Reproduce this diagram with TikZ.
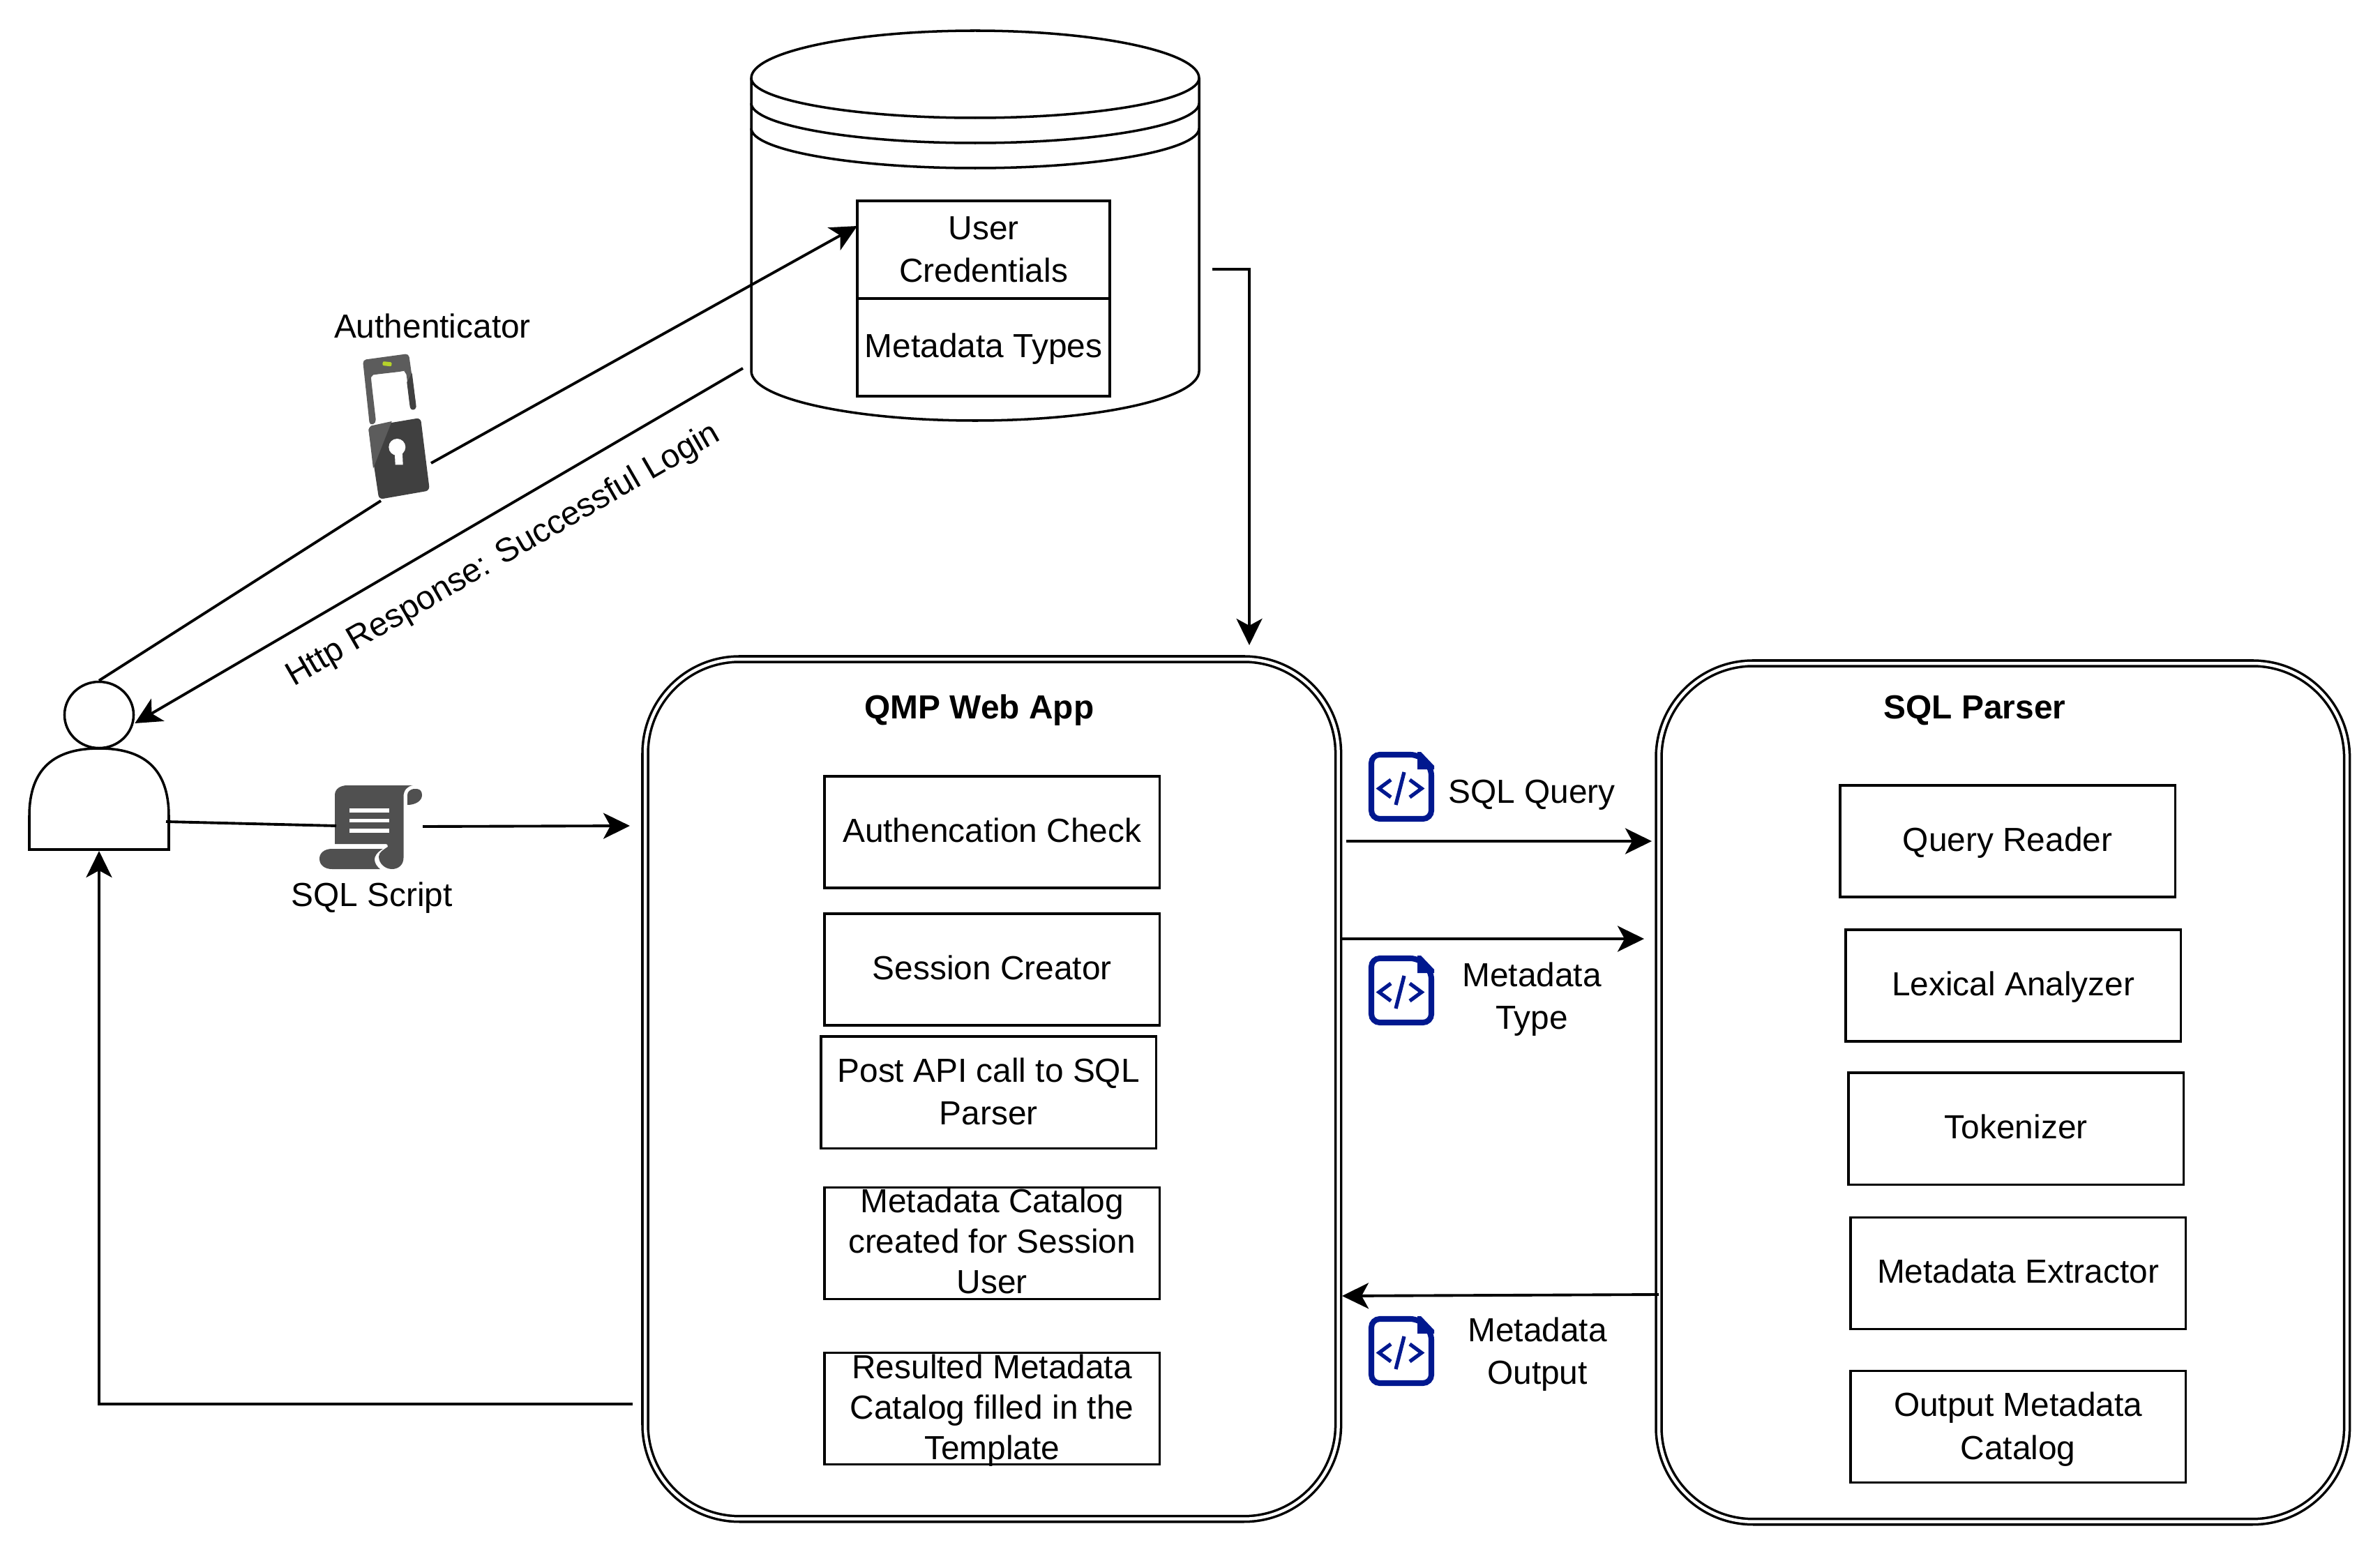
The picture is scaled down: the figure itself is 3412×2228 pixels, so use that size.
\documentclass[tikz,border=0pt]{standalone}
\usepackage{fontspec}
\setmainfont{Liberation Sans}
\usetikzlibrary{positioning,shapes.geometric,arrows.meta}

\definecolor{iconblue}{HTML}{00188F}
\definecolor{scrollgrey}{HTML}{505050}
\definecolor{lockdark}{HTML}{404040}
\definecolor{locklight}{HTML}{5C5C5C}
\definecolor{lockled}{HTML}{B5D22A}

\newcommand{\linestrut}{\rule[-4.04pt]{0pt}{16.04pt}}

\tikzset{
	lbl/.style={font=\fontsize{13.6}{17.4}\selectfont, align=center, inner sep=0, execute at begin node=\linestrut, execute at end node=\linestrut},
	wrapped/.style={execute at begin node={\rule{0pt}{30.5pt}}},
	box/.style={lbl, draw, line width=1pt, minimum width=4.8cm, minimum height=1.6cm, outer sep=0},
	tightbox/.style={box, font=\fontsize{13.6}{16.5}\selectfont, inner ysep=-0.2cm, execute at begin node={\rule{0pt}{45.3pt}}},
	store/.style={box, minimum width=3.62cm, minimum height=1.4cm},
	container/.style={draw, line width=1pt, double, double distance=0.045cm, rounded corners=1.35cm, outer sep=0, inner sep=0},
	title/.style={lbl, font=\fontsize{13.6}{17.4}\selectfont\bfseries},
	flow/.style={line width=1.1pt, -{Stealth[length=0.38cm,width=0.37cm,inset=0.1cm]}},
	plain/.style={line width=1.1pt},
	wall/.style={line width=1pt},
	codefile/.pic={
		\draw[iconblue, line width=2.3pt, rounded corners=0.12cm] (4,4) -- (72,4) -- (90,22) -- (90,96) -- (4,96) -- cycle;
		\fill[iconblue] (70,0) -- (75,0) -- (94,20) -- (94,25) -- (70,25) -- cycle;
		\draw[iconblue, line width=1.5pt] (32,40) -- (15,52.5) -- (32,65);
		\draw[iconblue, line width=1.5pt] (59,40) -- (76,52.5) -- (59,65);
		\draw[iconblue, line width=1.5pt] (51,29) -- (39,76);
	}
}

\begin{document}
\begin{tikzpicture}[x=0.01cm, y=-0.01cm]
	\useasboundingbox (0,0) rectangle (3412,2228);

	\draw[wall] (1077,112) -- (1077,532) .. controls (1077,571) and (1221,603) .. (1398,603) .. controls (1575,603) and (1719,571) .. (1719,532) -- (1719,112);
	\draw[wall] (1077,112) .. controls (1077,75) and (1221,44) .. (1398,44) .. controls (1575,44) and (1719,75) .. (1719,112);
	\foreach \dy in {0,36,72}
		\draw[wall] (1077,112+\dy) .. controls (1077,143+\dy) and (1221,169+\dy) .. (1398,169+\dy) .. controls (1575,169+\dy) and (1719,143+\dy) .. (1719,112+\dy);

	\node[store, wrapped, anchor=north west](cred) at (1229,288){User\\Credentials};
	\node[store, below=0cm of cred](mtypes){Metadata Types};

	\node[container, minimum width=9.93cm, minimum height=12.32cm, anchor=north west](qmp) at (925,945){};
	\node[container, minimum width=9.86cm, minimum height=12.30cm, anchor=north west](parser) at (2378,951){};
	\node[title](qmptitle) at (1404,1017){QMP Web App};
	\node[title](parsertitle) at (2831,1017){SQL Parser};

	\node[box, anchor=north west](auth) at (1182,1113){Authencation Check};
	\node[box, below=0.37cm of auth](session){Session Creator};
	\node[box, wrapped, below=0.16cm of session, xshift=-0.05cm](post){Post API call to SQL\\Parser};
	\node[tightbox, below=0.56cm of post, xshift=0.05cm](catalog){Metadata Catalog\\created for Session\\User};
	\node[tightbox, below=0.77cm of catalog](result){Resulted Metadata\\Catalog filled in the\\Template};

	\node[box, anchor=north west](reader) at (2638,1126){Query Reader};
	\node[box, below=0.47cm of reader, xshift=0.08cm](lexer){Lexical Analyzer};
	\node[box, below=0.45cm of lexer, xshift=0.04cm](token){Tokenizer};
	\node[box, below=0.47cm of token, xshift=0.03cm](extract){Metadata Extractor};
	\node[box, wrapped, below=0.60cm of extract](output){Output Metadata\\Catalog};

	\node[draw, line width=1pt, ellipse, minimum width=0.99cm, minimum height=0.95cm, inner sep=0](head) at (142,1025){};
	\draw[wall] (42,1218) -- (42,1170) .. controls (42,1100) and (80,1073) .. (142,1073) .. controls (204,1073) and (242,1100) .. (242,1170) -- (242,1218) -- cycle;
	\coordinate (actorfoot) at (142,1220);
	\coordinate (actorside) at (238,1178);

	\fill[locklight, rounded corners=0.05cm] (520,516) -- (586,507) -- (596.7,583) -- (591.7,588) -- (587.7,583) -- (583.3,541.7) .. controls (582,534) and (578,532) .. (575,532.7) -- (540,536.7) .. controls (535,537.5) and (532,541) .. (532.3,546) -- (539.3,606.7) -- (530,610) -- cycle;
	\fill[lockdark] (590.7,535) -- (583.3,548) -- (587.7,583.3) .. controls (588,589) and (596,589) .. (596.7,583.3) -- cycle;
	\fill[lockled, rotate around={-6:(555,521.7)}, rounded corners=0.02cm] (548.5,518.7) rectangle (561.5,524.7);
	\fill[lockdark, rounded corners=0.06cm] (527.7,611.7) -- (603,599) -- (616,703.3) -- (543.3,716) -- cycle;
	\fill[locklight] (528.5,616) -- (532,610.5) -- (561.7,604) -- (535,671.7) -- cycle;
	\fill[white] (569.3,641) circle [radius=12];
	\fill[white] (565.7,646.7) -- (576.7,645.7) -- (577.7,666.5) -- (566.7,666.5) -- cycle;
	\node[lbl](authlabel) at (620,471){Authenticator};
	\coordinate (lockin) at (546,718);
	\coordinate (lockout) at (618,664);

	\fill[scrollgrey] (480,1140) .. controls (480,1131) and (488,1126) .. (498,1126) -- (592,1126) .. controls (584,1127) and (578.5,1133) .. (578.5,1142) -- (578.5,1230) .. controls (578.5,1240) and (571,1246) .. (562,1246) .. controls (552,1246) and (543,1238) .. (543,1228) .. controls (543,1222) and (550,1218) .. (556,1214) .. controls (556,1211) and (555,1210) .. (553,1210) -- (480,1210) -- cycle;
	\fill[scrollgrey] (476,1217) -- (549,1217) .. controls (540,1222) and (537,1228) .. (537,1232) .. controls (537,1238) and (541,1243) .. (545,1246) -- (476,1246) .. controls (465,1246) and (458,1240) .. (458,1231) .. controls (458,1223) and (465,1217) .. (476,1217) -- cycle;
	\fill[scrollgrey] (584,1154) -- (584,1140) .. controls (584,1135) and (588,1132) .. (593,1131) -- (598,1131) .. controls (603,1132) and (605,1135) .. (605,1140) .. controls (605,1148) and (596,1154) .. (584,1154) -- cycle;
	\foreach \ly in {1159,1173.5,1188}
		\fill[white] (500.5,\ly) rectangle (558,\ly+5.5);
	\node[lbl](scriptlabel) at (533,1285){SQL Script};
	\coordinate (scriptin) at (482,1184);
	\coordinate (scriptout) at (606,1185);

	\pic(queryicon) at (1962,1078){codefile};
	\pic(typeicon) at (1962,1370){codefile};
	\pic(outicon) at (1962,1887){codefile};
	\node[lbl](querylabel) at (2196,1137){SQL Query};
	\node[lbl, wrapped](typelabel) at (2196,1429){Metadata\\Type};
	\node[lbl, wrapped](outlabel) at (2204,1938){Metadata\\Output};
	\node[lbl, rotate=30](resplabel) at (721,795){Http Response: Successful Login};

	\coordinate (qmpin) at (903,1184);
	\coordinate (qmpback) at (907,2013);
	\coordinate (dbout) at (1738,386);
	\coordinate (dbback) at (1065,528);
	\coordinate (qmptop) at (1791,925);
	\coordinate (qsrc) at (1930,1206);
	\coordinate (qdst) at (2368,1206);
	\coordinate (tsrc) at (1923,1346);
	\coordinate (tdst) at (2357,1346);
	\coordinate (osrc) at (2378,1856);
	\coordinate (odst) at (1924,1858);

	\draw[plain] (head.north) -- (lockin);
	\draw[flow] (lockout) -- ([yshift=0.34cm]cred.west);
	\draw[flow] (dbback) -- ([yshift=-0.12cm]head.east);
	\draw[plain] (actorside) -- (scriptin);
	\draw[flow] (scriptout) -- (qmpin);
	\draw[flow] (qmpback) -| (actorfoot);
	\draw[flow] (dbout) -| (qmptop);
	\draw[flow] (qsrc) -- (qdst);
	\draw[flow] (tsrc) -- (tdst);
	\draw[flow] (osrc) -- (odst);

\end{tikzpicture}
\end{document}
